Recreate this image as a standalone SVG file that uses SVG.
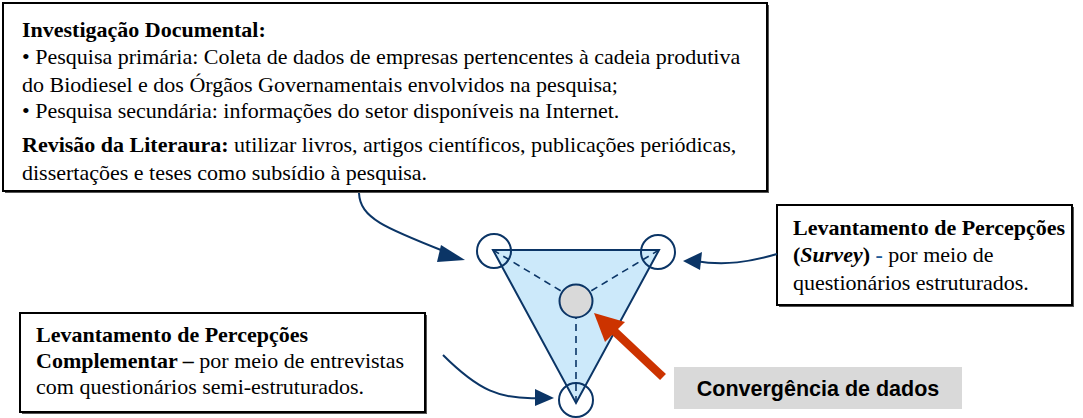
<svg xmlns="http://www.w3.org/2000/svg" width="1083" height="418" viewBox="0 0 1083 418">
<style>
.box{fill:#fff;stroke:#000;stroke-width:2}
.shadow{fill:#555}
.t{font-family:"Liberation Serif","Times New Roman",serif;font-size:22px;fill:#000}
.b{font-weight:bold}
.conn{fill:none;stroke:#0b3566;stroke-width:2}
.dash{fill:none;stroke:#0b3566;stroke-width:1.6;stroke-dasharray:7 5}
.ring{fill:none;stroke:#0b3566;stroke-width:2}
.head{fill:#0b3566}
</style>
<g id="triangle">
<path d="M493,250 L659,250 L576,403 z" fill="#cce9fa" stroke="#0b3566" stroke-width="2"/>
<path class="dash" d="M493,250 L576,300 M659,250 L576,300 M576,300 L576,403"/>
<circle cx="576" cy="301" r="16.5" fill="#d9d9d9" stroke="#0b3566" stroke-width="2"/>
<circle class="ring" cx="494" cy="251" r="17"/>
<circle class="ring" cx="658" cy="252" r="17"/>
<circle class="ring" cx="576" cy="400" r="17"/>
</g>
<g id="doc">
<rect class="shadow" x="5" y="5" width="764" height="188"/>
<rect class="box" x="3" y="3" width="764" height="188"/>
<text class="t b" x="22" y="37">Investigação Documental:</text>
<text class="t" x="22" y="64">• Pesquisa primária: Coleta de dados de empresas pertencentes à cadeia produtiva</text>
<text class="t" x="22" y="92">do Biodiesel e dos Órgãos Governamentais envolvidos na pesquisa;</text>
<text class="t" x="22" y="118">• Pesquisa secundária: informações do setor disponíveis na Internet.</text>
<text class="t" x="22" y="152"><tspan class="b">Revisão da Literaura:</tspan> utilizar livros, artigos científicos, publicações periódicas,</text>
<text class="t" x="22" y="180">dissertações e teses como subsídio à pesquisa.</text>
</g>
<g id="survey">
<rect class="shadow" x="779" y="207" width="295" height="100"/>
<rect class="box" x="777" y="205" width="295" height="100"/>
<text class="t b" x="793" y="235">Levantamento de Percepções</text>
<text class="t" x="793" y="262"><tspan class="b">(<tspan font-style="italic">Survey</tspan>) <tspan fill="#1f5c99">-</tspan></tspan> por meio de</text>
<text class="t" x="793" y="290">questionários estruturados.</text>
</g>
<g id="complementar">
<rect class="shadow" x="22" y="315" width="405" height="99"/>
<rect class="box" x="20" y="313" width="405" height="99"/>
<text class="t b" x="36" y="342">Levantamento de Percepções</text>
<text class="t" x="36" y="368"><tspan class="b">Complementar –</tspan> por meio de entrevistas</text>
<text class="t" x="36" y="394">com questionários semi-estruturados.</text>
</g>
<g id="convergencia">
<rect x="674" y="367" width="288" height="42" fill="#d9d9d9"/>
<text x="818" y="396" text-anchor="middle" font-family="Liberation Sans, Arial, sans-serif" font-size="21.5" font-weight="bold" fill="#000">Convergência de dados</text>
</g>
<g id="connectors">
<path class="conn" d="M359,193 C360,218 385,228 446,252"/>
<path class="head" d="M441,245 L465,260 L437,262 z"/>
<path class="conn" d="M777,254 C750,262 725,266 695,261"/>
<path class="head" d="M683,261 L702,252 L700,270 z"/>
<path class="conn" d="M443,355 C478,390 500,400 540,398"/>
<path class="head" d="M554,398 L535,389 L535,406 z"/>
<path d="M663,377 L613,330" stroke="#cc3300" stroke-width="8.5" fill="none"/>
<path d="M594,313 L625,322 L605,342 z" fill="#cc3300"/>
</g>
</svg>
